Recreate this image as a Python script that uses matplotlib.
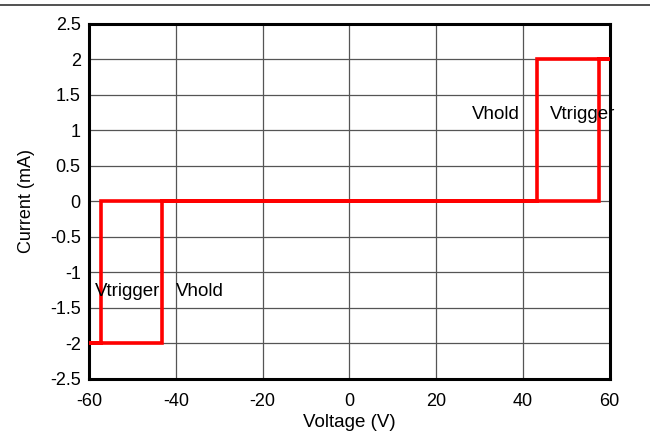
import matplotlib
matplotlib.use("Agg")
import matplotlib.pyplot as plt
from matplotlib.lines import Line2D

plt.rcParams['font.family'] = ['Liberation Sans', 'DejaVu Sans']
plt.rcParams['axes.unicode_minus'] = False

# hysteresis loop traced as one path
voltage = [-60, -43.2, -43.2, 57.5, 57.5, 60, 43.2, 43.2, -57.2, -57.2, -60]
current = [-2, -2, 0, 0, 2, 2, 2, 0, 0, -2, -2]

labels = ["Vhold", "Vtrigger", "Vtrigger", "Vhold"]
label_x = [33.7, 53.8, -51.2, -34.4]
label_y = [1.23, 1.23, -1.27, -1.27]

xticks = [-60, -40, -20, 0, 20, 40, 60]
yticks = [-2.5, -2, -1.5, -1, -0.5, 0, 0.5, 1, 1.5, 2, 2.5]

fig = plt.figure(figsize=(6.5, 4.34), dpi=100)
ax = fig.add_axes([0.137, 0.127, 0.801, 0.818])

ax.plot(voltage, current, color='#ff0000', lw=2.6, solid_joinstyle='miter', zorder=3)

for t, x, y in zip(labels, label_x, label_y):
    ax.text(x, y, t, ha='center', va='center', fontsize=13.5, zorder=4)

ax.set_xlim(-60, 60)
ax.set_ylim(-2.5, 2.5)
ax.set_xticks(xticks)
ax.set_yticks(yticks)
ax.set_yticklabels([f"{v:g}" for v in yticks])
ax.grid(True, color='#555555', lw=0.9)
ax.tick_params(length=0, labelsize=13)
ax.tick_params(axis='x', pad=10)
ax.tick_params(axis='y', pad=6)
for s in ax.spines.values():
    s.set_linewidth(2.2)

ax.set_xlabel("Voltage (V)", fontsize=13.5, labelpad=3)
ax.set_ylabel("Current (mA)", fontsize=13, labelpad=11)

fig.add_artist(Line2D([0, 1], [1 - 5/434, 1 - 5/434], color='#333333', lw=1.2))

fig.savefig("out.png", dpi=100)
